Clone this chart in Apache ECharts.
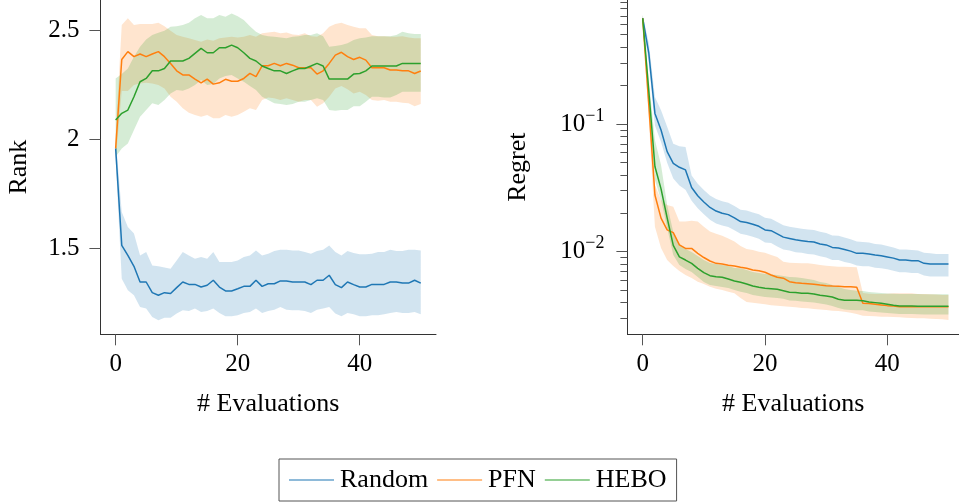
<!DOCTYPE html>
<html>
<head>
<meta charset="utf-8">
<script src="https://cdn.jsdelivr.net/npm/echarts@6/dist/echarts.min.js"></script>
<style>
  html, body { margin: 0; padding: 0; background: #fff; }
  #main { width: 959px; height: 503px; }
</style>
</head>
<body>
<div id="main"></div>
<script>
// x: number of evaluations
const evals = [0,1,2,3,4,5,6,7,8,9,10,11,12,13,14,15,16,17,18,19,20,21,22,23,24,25,26,27,28,29,30,31,32,33,34,35,36,37,38,39,40,41,42,43,44,45,46,47,48,49,50];

// ---- left panel: mean rank ----
const rankRandom = [1.957,1.512,1.466,1.416,1.344,1.344,1.295,1.283,1.295,1.291,1.318,1.344,1.333,1.333,1.321,1.329,1.352,1.321,1.303,1.303,1.313,1.324,1.324,1.352,1.324,1.336,1.336,1.349,1.349,1.344,1.344,1.344,1.332,1.352,1.352,1.375,1.332,1.318,1.344,1.332,1.321,1.321,1.333,1.333,1.333,1.344,1.344,1.339,1.339,1.352,1.339];
const rankRandomHi = [2.0,1.665,1.596,1.566,1.466,1.482,1.420,1.416,1.410,1.405,1.443,1.482,1.466,1.451,1.459,1.451,1.482,1.436,1.436,1.436,1.443,1.459,1.466,1.489,1.466,1.474,1.486,1.492,1.492,1.489,1.489,1.482,1.474,1.486,1.492,1.512,1.482,1.466,1.486,1.477,1.471,1.471,1.474,1.482,1.482,1.492,1.486,1.486,1.492,1.492,1.489];
const rankRandomLo = [1.91,1.359,1.306,1.283,1.229,1.222,1.183,1.168,1.180,1.180,1.199,1.214,1.211,1.222,1.206,1.211,1.222,1.202,1.187,1.187,1.191,1.202,1.206,1.222,1.202,1.211,1.217,1.229,1.217,1.214,1.214,1.211,1.202,1.217,1.222,1.229,1.199,1.187,1.202,1.196,1.187,1.187,1.191,1.191,1.196,1.202,1.206,1.202,1.202,1.206,1.196];

const rankPFN = [1.957,2.365,2.401,2.378,2.390,2.378,2.390,2.401,2.378,2.347,2.313,2.294,2.294,2.275,2.258,2.275,2.252,2.258,2.274,2.265,2.265,2.278,2.301,2.286,2.336,2.336,2.347,2.336,2.347,2.339,2.327,2.327,2.327,2.298,2.313,2.347,2.385,2.398,2.378,2.365,2.375,2.362,2.327,2.327,2.327,2.317,2.317,2.313,2.313,2.301,2.312];
const rankPFNHi = [2.02,2.523,2.554,2.523,2.528,2.528,2.528,2.534,2.518,2.497,2.477,2.469,2.462,2.454,2.446,2.457,2.451,2.462,2.466,2.469,2.466,2.469,2.477,2.469,2.485,2.489,2.492,2.485,2.489,2.480,2.477,2.485,2.472,2.469,2.485,2.515,2.528,2.534,2.523,2.515,2.508,2.508,2.477,2.472,2.472,2.469,2.469,2.472,2.466,2.462,2.462];
const rankPFNLo = [1.90,2.22,2.22,2.248,2.255,2.258,2.255,2.248,2.232,2.194,2.171,2.141,2.121,2.110,2.102,2.110,2.095,2.095,2.110,2.102,2.110,2.125,2.141,2.133,2.179,2.191,2.187,2.179,2.187,2.179,2.171,2.179,2.179,2.148,2.164,2.194,2.232,2.243,2.228,2.209,2.217,2.202,2.179,2.176,2.179,2.171,2.171,2.167,2.164,2.151,2.161];

const rankHEBO = [2.087,2.118,2.133,2.194,2.263,2.278,2.313,2.313,2.324,2.358,2.358,2.358,2.370,2.393,2.416,2.396,2.396,2.419,2.419,2.431,2.419,2.396,2.370,2.358,2.335,2.324,2.313,2.313,2.301,2.313,2.324,2.324,2.335,2.347,2.335,2.275,2.275,2.275,2.275,2.298,2.301,2.313,2.335,2.335,2.335,2.335,2.335,2.347,2.347,2.347,2.347];
const rankHEBOHi = [2.278,2.298,2.324,2.378,2.424,2.457,2.477,2.488,2.497,2.515,2.518,2.523,2.534,2.554,2.569,2.554,2.554,2.569,2.561,2.576,2.564,2.546,2.518,2.492,2.477,2.472,2.469,2.466,2.462,2.469,2.472,2.477,2.477,2.485,2.472,2.424,2.427,2.431,2.439,2.454,2.462,2.466,2.472,2.472,2.472,2.472,2.477,2.492,2.485,2.482,2.482];
const rankHEBOLo = [1.919,1.957,1.980,2.041,2.102,2.133,2.164,2.156,2.179,2.209,2.225,2.222,2.232,2.248,2.271,2.248,2.252,2.278,2.289,2.294,2.278,2.263,2.243,2.225,2.194,2.179,2.164,2.161,2.156,2.161,2.171,2.171,2.179,2.187,2.179,2.133,2.130,2.133,2.133,2.151,2.151,2.171,2.194,2.194,2.191,2.191,2.202,2.217,2.217,2.217,2.217];

// ---- right panel: regret (log scale) ----
const regRandom = [0.673,0.358,0.121,0.0897,0.0607,0.0492,0.0458,0.0437,0.0318,0.0274,0.0245,0.0222,0.0208,0.0200,0.0195,0.0184,0.0172,0.0169,0.0164,0.0158,0.0148,0.0146,0.0138,0.0130,0.0127,0.0124,0.0122,0.0120,0.0119,0.0115,0.0113,0.0108,0.0107,0.0104,0.0101,0.0097,0.0097,0.0096,0.0094,0.0093,0.0091,0.0089,0.0086,0.0086,0.0085,0.0085,0.0081,0.0080,0.0080,0.0080,0.0080];
const regRandomHi = [0.71,0.43,0.163,0.128,0.095,0.070,0.067,0.066,0.0395,0.034,0.0304,0.0275,0.0258,0.0248,0.0242,0.0228,0.0213,0.0210,0.0203,0.0196,0.0184,0.0181,0.0171,0.0161,0.0157,0.0154,0.0151,0.0149,0.0148,0.0143,0.0140,0.0134,0.0133,0.0129,0.0125,0.0120,0.0119,0.0118,0.0115,0.0114,0.0111,0.0108,0.0104,0.0104,0.0103,0.0102,0.0098,0.0097,0.0096,0.0096,0.0096];
const regRandomLo = [0.637,0.299,0.0975,0.0722,0.0498,0.0374,0.033,0.0306,0.0251,0.0219,0.0196,0.0178,0.0166,0.0160,0.0156,0.0147,0.0138,0.0135,0.0131,0.0126,0.0118,0.0117,0.0110,0.0104,0.0102,0.0099,0.0098,0.0096,0.0095,0.0092,0.0090,0.0086,0.0086,0.0083,0.0081,0.0078,0.0077,0.0077,0.0075,0.0074,0.0073,0.0071,0.0069,0.0069,0.0068,0.0068,0.0065,0.0064,0.0064,0.0064,0.0064];

const regPFN = [0.673,0.141,0.0278,0.0183,0.0148,0.0141,0.0113,0.0106,0.0106,0.0097,0.0090,0.00845,0.0081,0.0080,0.00782,0.00773,0.00755,0.00741,0.00719,0.0071,0.0069,0.00657,0.0063,0.0062,0.00582,0.00572,0.00566,0.00561,0.00556,0.00548,0.00542,0.00538,0.00536,0.00532,0.00532,0.00526,0.00394,0.00392,0.00388,0.00383,0.00378,0.00376,0.00371,0.00371,0.00371,0.00371,0.00371,0.00371,0.00371,0.00371,0.00371];
const regPFNHi = [0.72,0.18,0.0333,0.0254,0.0232,0.0225,0.0172,0.0172,0.0175,0.0172,0.0157,0.0144,0.0138,0.0133,0.0127,0.0120,0.0111,0.0105,0.0103,0.0100,0.0098,0.0094,0.0091,0.00835,0.0082,0.00816,0.0081,0.0081,0.0080,0.00787,0.00776,0.00769,0.00763,0.00763,0.00759,0.00755,0.00475,0.00469,0.00467,0.00467,0.00469,0.00472,0.00472,0.00472,0.00472,0.00467,0.00467,0.00464,0.00461,0.00458,0.00458];
const regPFNLo = [0.63,0.11,0.0157,0.0107,0.0086,0.00773,0.00706,0.00657,0.00622,0.00582,0.00558,0.00532,0.00513,0.00501,0.00486,0.00472,0.00434,0.00404,0.00399,0.00392,0.00388,0.0038,0.00378,0.00373,0.00371,0.00367,0.00362,0.0036,0.00356,0.00352,0.00349,0.00345,0.00343,0.00339,0.00333,0.00325,0.00315,0.00313,0.00312,0.0031,0.0031,0.00308,0.00306,0.00304,0.00303,0.00301,0.00301,0.00299,0.00297,0.00296,0.00292];

const regHEBO = [0.673,0.181,0.0464,0.0310,0.0184,0.0112,0.0091,0.0086,0.0081,0.00741,0.00685,0.00649,0.00637,0.0063,0.00611,0.0059,0.00576,0.00558,0.00538,0.00526,0.00517,0.00513,0.00508,0.00495,0.00481,0.00478,0.00472,0.00472,0.00467,0.00456,0.0045,0.00442,0.00424,0.00416,0.00416,0.00416,0.00413,0.00403,0.00399,0.00394,0.00388,0.0038,0.00376,0.00376,0.00376,0.00373,0.00373,0.00373,0.00373,0.00373,0.00373];
const regHEBOHi = [0.715,0.221,0.075,0.0478,0.0232,0.01426,0.01128,0.01049,0.00995,0.00925,0.00861,0.00816,0.00801,0.00787,0.00773,0.00745,0.00741,0.00719,0.00693,0.00681,0.00668,0.00662,0.00657,0.00646,0.00634,0.0063,0.00622,0.00611,0.006,0.00579,0.00569,0.00548,0.0053,0.00511,0.00501,0.00495,0.00492,0.00483,0.0048,0.00475,0.00471,0.00469,0.00467,0.00467,0.00467,0.00467,0.00464,0.00464,0.00464,0.00464,0.00464];
const regHEBOLo = [0.63,0.154,0.0364,0.0254,0.01535,0.00942,0.00787,0.00733,0.00693,0.00634,0.00579,0.00548,0.00538,0.0053,0.0052,0.00501,0.00486,0.00475,0.00458,0.0045,0.00442,0.00438,0.00434,0.00427,0.00415,0.00413,0.00407,0.00404,0.004,0.00393,0.00386,0.00376,0.00362,0.00352,0.00349,0.00348,0.00347,0.0034,0.00337,0.00334,0.00331,0.00328,0.00325,0.00325,0.00325,0.00324,0.00322,0.00322,0.00322,0.00322,0.00322];

const names = ['Random', 'PFN', 'HEBO'];
const colors = ['#1f77b4', '#ff7f0e', '#2ca02c'];
const rankTicks = [1.5, 2, 2.5];
const evalTicks = [0, 20, 40];
const regretTicks = [0.01, 0.1];
const regretMinor = [0.003,0.004,0.005,0.006,0.007,0.008,0.009,0.02,0.03,0.04,0.05,0.06,0.07,0.08,0.09,0.2,0.3,0.4,0.5,0.6,0.7,0.8,0.9];

const FONT = 'Liberation Serif';
const chart = echarts.init(document.getElementById('main'), null, { renderer: 'canvas' });

function lineSeries(name, color, values, axisIdx) {
  return {
    name: name, type: 'line', xAxisIndex: axisIdx, yAxisIndex: axisIdx === 0 ? 0 : 1,
    data: evals.map((x, i) => [x, values[i]]),
    symbol: 'none', z: 5, animation: false,
    lineStyle: { color: color, width: 1.5 },
    itemStyle: { color: color }
  };
}

// shaded band: one polygon through upper then lower edge
function bandSeries(name, color, lo, hi, axisIdx) {
  return {
    name: name + ' band', type: 'custom', xAxisIndex: axisIdx, yAxisIndex: axisIdx === 0 ? 0 : 1,
    silent: true, z: 1, animation: false,
    data: evals.map((x, i) => [x, lo[i], hi[i]]),
    encode: { x: 0, y: [1, 2] },
    renderItem: function (params, api) {
      if (params.dataIndex !== 0) return null;
      const pts = [];
      for (let i = 0; i < evals.length; i++) pts.push(api.coord([evals[i], hi[i]]));
      for (let i = evals.length - 1; i >= 0; i--) pts.push(api.coord([evals[i], lo[i]]));
      return { type: 'polygon', shape: { points: pts }, style: { fill: color, opacity: 0.2 } };
    }
  };
}

const axisLineStyle = { onZero: false, lineStyle: { color: '#333', width: 1 } };
const tickStyle = { lineStyle: { color: '#555', width: 1 } };
const labelFont = { color: '#000', fontFamily: FONT, fontSize: 25 };
const nameFont = { color: '#000', fontFamily: FONT, fontSize: 26 };

function xAxisFor(gridIndex, max) {
  return {
    type: 'value', gridIndex: gridIndex, min: -2.5, max: max,
    name: '# Evaluations', nameLocation: 'middle', nameGap: 57, nameTextStyle: nameFont,
    axisLine: axisLineStyle, splitLine: { show: false },
    axisTick: Object.assign({ length: 11, customValues: evalTicks }, tickStyle),
    axisLabel: Object.assign({ margin: 18, customValues: evalTicks }, labelFont)
  };
}

const option = {
  animation: false,
  backgroundColor: '#fff',
  grid: [
    { left: 100.4, top: 0, width: 335.6, height: 334.3, outerBoundsMode: 'none' },
    { left: 627.4, top: 0, right: 0, height: 334.3, outerBoundsMode: 'none' }
  ],
  xAxis: [xAxisFor(0, 52.5), xAxisFor(1, 51.72)],
  yAxis: [
    {
      type: 'value', gridIndex: 0, min: 1.104, max: 2.638,
      name: 'Rank', nameLocation: 'middle', nameGap: 68, nameRotate: 90, nameTextStyle: nameFont,
      axisLine: Object.assign({ show: true }, axisLineStyle), splitLine: { show: false },
      axisTick: Object.assign({ length: 11, customValues: rankTicks }, tickStyle),
      axisLabel: Object.assign({ margin: 21, customValues: rankTicks }, labelFont)
    },
    {
      type: 'log', logBase: 10, gridIndex: 1, min: 0.002254, max: 0.935,
      name: 'Regret', nameLocation: 'middle', nameGap: 96, nameRotate: 90, nameTextStyle: nameFont,
      axisLine: Object.assign({ show: true }, axisLineStyle), splitLine: { show: false },
      axisTick: Object.assign({ length: 11, customValues: regretTicks }, tickStyle),
      axisLabel: Object.assign({
        margin: 23, customValues: regretTicks,
        formatter: function (v) { return v < 0.05 ? '{b|10}{s|\u22122}' : '{b|10}{s|\u22121}'; },
        rich: {
          b: { fontFamily: FONT, fontSize: 25, color: '#000' },
          s: { fontFamily: FONT, fontSize: 18, color: '#000', padding: [0, 0, 16, 0] }
        }
      }, labelFont)
    },
    {
      // minor ticks of the log axis
      type: 'log', logBase: 10, gridIndex: 1, min: 0.002254, max: 0.935, position: 'left',
      axisLine: { show: false, onZero: false }, splitLine: { show: false }, axisLabel: { show: false },
      axisTick: Object.assign({ show: true, length: 7, customValues: regretMinor }, tickStyle)
    }
  ],
  legend: {
    data: names, left: 279, top: 459, orient: 'horizontal',
    icon: 'rect', itemWidth: 45, itemHeight: 1.2, itemGap: 9,
    padding: [8, 10, 8, 10],
    borderColor: '#555', borderWidth: 1, borderRadius: 0,
    textStyle: { fontFamily: FONT, fontSize: 26, color: '#000', padding: [0, 0, 0, 1] }
  },
  series: [
    bandSeries('Random', colors[0], rankRandomLo, rankRandomHi, 0),
    bandSeries('PFN', colors[1], rankPFNLo, rankPFNHi, 0),
    bandSeries('HEBO', colors[2], rankHEBOLo, rankHEBOHi, 0),
    lineSeries('Random', colors[0], rankRandom, 0),
    lineSeries('PFN', colors[1], rankPFN, 0),
    lineSeries('HEBO', colors[2], rankHEBO, 0),
    bandSeries('Random', colors[0], regRandomLo, regRandomHi, 1),
    bandSeries('PFN', colors[1], regPFNLo, regPFNHi, 1),
    bandSeries('HEBO', colors[2], regHEBOLo, regHEBOHi, 1),
    lineSeries('Random', colors[0], regRandom, 1),
    lineSeries('PFN', colors[1], regPFN, 1),
    lineSeries('HEBO', colors[2], regHEBO, 1)
  ]
};

chart.setOption(option);
</script>
</body>
</html>
